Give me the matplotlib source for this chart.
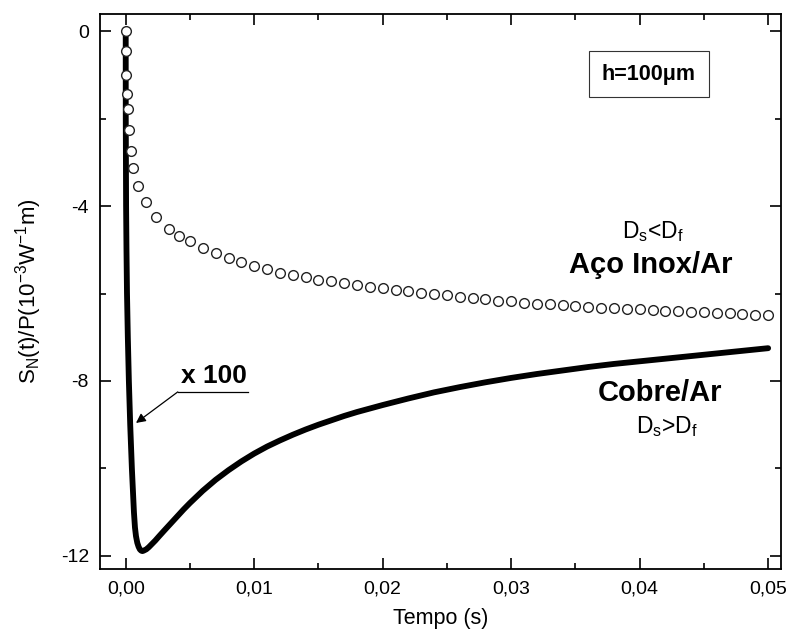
import matplotlib
matplotlib.use("Agg")
from matplotlib import pyplot as plt
from matplotlib.ticker import MultipleLocator, FuncFormatter

plt.rcParams['font.family'] = ['Liberation Sans', 'DejaVu Sans']
plt.rcParams['mathtext.fontset'] = 'custom'
plt.rcParams['mathtext.rm'] = 'Liberation Sans'
plt.rcParams['mathtext.it'] = 'Liberation Sans'
plt.rcParams['mathtext.default'] = 'regular'

# Cobre/Ar (x 100), solid curve
t_cobre = [0, 0.000004, 0.00003, 0.00006, 0.0001, 0.000165, 0.000246, 0.00035, 0.00048,
           0.00056, 0.00064, 0.00072, 0.0008, 0.0009, 0.001, 0.0011, 0.0012, 0.0013,
           0.0014, 0.0016, 0.0018, 0.002, 0.0023, 0.0026, 0.003, 0.0035, 0.004, 0.0045,
           0.005, 0.006, 0.007, 0.008, 0.009, 0.010, 0.011, 0.012, 0.013, 0.014, 0.015,
           0.016, 0.017, 0.018, 0.019, 0.020, 0.022, 0.024, 0.026, 0.028, 0.030, 0.032,
           0.034, 0.036, 0.038, 0.040, 0.042, 0.044, 0.046, 0.048, 0.050]
s_cobre = [0, -2.0, -4.0, -5.0, -6.0, -7.0, -8.0, -9.0, -10.0,
           -10.5, -11.0, -11.35, -11.55, -11.7, -11.79, -11.85, -11.88, -11.89,
           -11.88, -11.85, -11.80, -11.74, -11.65, -11.55, -11.42, -11.26, -11.10, -10.94,
           -10.79, -10.51, -10.26, -10.04, -9.84, -9.66, -9.50, -9.36, -9.23, -9.11, -9.00,
           -8.90, -8.80, -8.71, -8.63, -8.55, -8.40, -8.26, -8.14, -8.03, -7.93, -7.84,
           -7.76, -7.68, -7.61, -7.55, -7.49, -7.43, -7.37, -7.31, -7.25]

# Aço Inox/Ar, open circles
t_inox = [0, 0.00001, 0.00005, 0.0001, 0.00018, 0.00026, 0.0004, 0.00057, 0.00096,
          0.00156, 0.00234, 0.00335, 0.00413, 0.005, 0.006, 0.007, 0.008, 0.009,
          0.010, 0.011, 0.012, 0.013, 0.014, 0.015, 0.016, 0.017, 0.018, 0.019,
          0.020, 0.021, 0.022, 0.023, 0.024, 0.025, 0.026, 0.027, 0.028, 0.029,
          0.030, 0.031, 0.032, 0.033, 0.034, 0.035, 0.036, 0.037, 0.038, 0.039,
          0.040, 0.041, 0.042, 0.043, 0.044, 0.045, 0.046, 0.047, 0.048, 0.049, 0.050]
s_inox = [0, -0.45, -1.0, -1.44, -1.78, -2.26, -2.74, -3.14, -3.54,
          -3.90, -4.24, -4.52, -4.68, -4.81, -4.95, -5.08, -5.19, -5.29,
          -5.36, -5.45, -5.52, -5.58, -5.63, -5.68, -5.72, -5.76, -5.80, -5.84,
          -5.88, -5.92, -5.95, -5.98, -6.01, -6.04, -6.07, -6.10, -6.13, -6.16,
          -6.18, -6.21, -6.23, -6.25, -6.27, -6.29, -6.30, -6.32, -6.33, -6.35,
          -6.36, -6.38, -6.39, -6.40, -6.42, -6.43, -6.44, -6.45, -6.46, -6.48, -6.49]

fig = plt.figure(figsize=(7.9, 6.42), dpi=100)
ax = fig.add_axes([0.1266, 0.1137, 0.862, 0.8643])

ax.plot(t_cobre, s_cobre, color='black', lw=4.2, solid_capstyle='round',
        solid_joinstyle='round', zorder=2)
ax.plot(t_inox, s_inox, ls='none', marker='o', ms=7.0, mfc='white', mec='#222222',
        mew=1.0, zorder=3)

ax.set_xlim(-0.002, 0.051)
ax.set_ylim(-12.3, 0.39)
ax.xaxis.set_major_locator(MultipleLocator(0.01))
ax.xaxis.set_minor_locator(MultipleLocator(0.005))
ax.yaxis.set_major_locator(MultipleLocator(4))
ax.yaxis.set_minor_locator(MultipleLocator(2))
ax.xaxis.set_major_formatter(FuncFormatter(lambda v, p: f"{v:.2f}".replace('.', ',')))
ax.yaxis.set_major_formatter(FuncFormatter(lambda v, p: f"{v:.0f}"))
ax.tick_params(which='both', direction='in', top=True, right=True, labelsize=14, width=1.2)
ax.tick_params(which='major', length=8, pad=8)
ax.tick_params(which='minor', length=4.5)
for sp in ax.spines.values():
    sp.set_linewidth(1.3)

ax.set_xlabel('Tempo (s)', fontsize=15.5, labelpad=8)
ax.set_ylabel(r'$S_N(t)/P(10^{-3}W^{-1}m)$', fontsize=16, labelpad=12)

ax.text(0.0407, -0.98, 'h=100μm', fontsize=15.5, fontweight='bold', ha='center', va='center',
        bbox=dict(boxstyle='square,pad=0.6', fc='white', ec='#333333', lw=0.8))
ax.text(0.041, -4.59, r'$D_s$<$D_f$', fontsize=16.5, ha='center', va='center')
ax.text(0.0409, -5.35, 'Aço Inox/Ar', fontsize=21, fontweight='bold', ha='center', va='center')
ax.text(0.0416, -8.27, 'Cobre/Ar', fontsize=21, fontweight='bold', ha='center', va='center')
ax.text(0.0421, -9.05, r'$D_s$>$D_f$', fontsize=16.5, ha='center', va='center')

ax.text(0.00685, -7.89, 'x 100', fontsize=19, fontweight='bold', ha='center', va='center')
ax.plot([0.00405, 0.0095], [-8.25, -8.25], color='black', lw=0.9)
ax.annotate('', xy=(0.0008, -8.96), xytext=(0.00405, -8.25),
            arrowprops=dict(arrowstyle='-|>', color='black', lw=0.9, mutation_scale=14,
                            shrinkA=0, shrinkB=0))

fig.savefig('out.png', dpi=100)
